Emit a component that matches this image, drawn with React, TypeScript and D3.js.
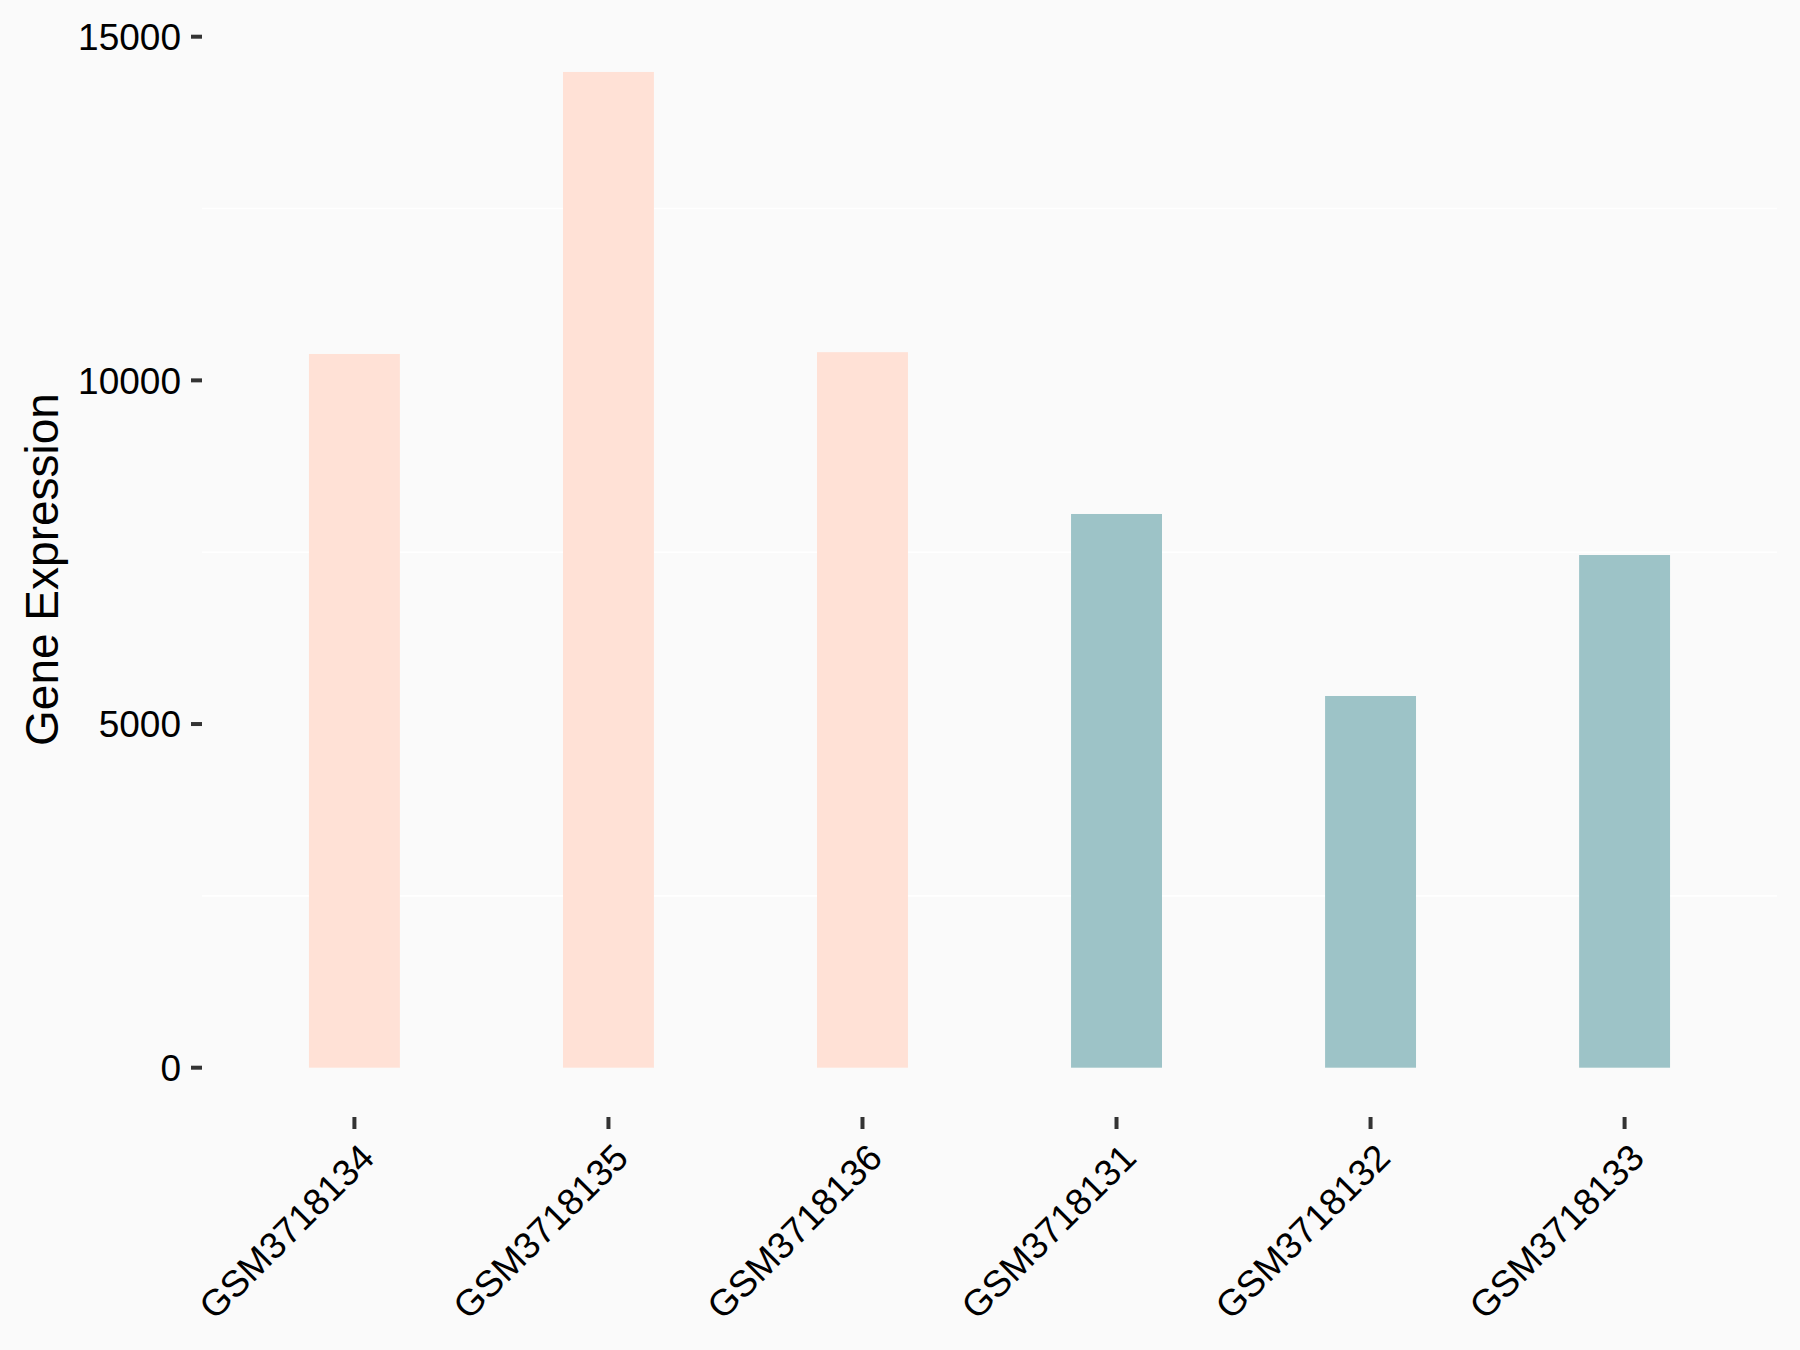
import React from "react";
import * as d3 from "d3";

const categories = ["GSM3718134", "GSM3718135", "GSM3718136", "GSM3718131", "GSM3718132", "GSM3718133"];
const values = [10384, 14487, 10410, 8056, 5408, 7459];
const groups = ["A", "A", "A", "B", "B", "B"];
const groupColors: Record<string, string> = { A: "#FFE1D6", B: "#9DC3C7" };
const yTicks = [0, 5000, 10000, 15000];
const yMinor = [2500, 7500, 12500];
const yTitle = "Gene Expression";

const W = 1800;
const H = 1350;
const panel = { left: 202, right: 1777, top: 22, bottom: 1117 };
const FONT = "'Liberation Sans', Arial, Helvetica, sans-serif";

export default function App() {
  const x = d3.scalePoint<string>().domain(categories).range([panel.left, panel.right]).padding(0.6);
  const y = d3.scaleLinear().domain([0, 15000]).range([1067.7, 36.7]);
  const barW = x.step() * 0.358;

  return (
    <svg width={W} height={H} style={{ position: "absolute", left: 0, top: 0, background: "#FAFAFA" }}>
      <rect x={0} y={0} width={W} height={H} fill="#FAFAFA" />
      {yMinor.map((t) => (
        <line key={"g" + t} x1={panel.left} x2={panel.right} y1={y(t)} y2={y(t)} stroke="#FFFFFF" strokeWidth={1.6} />
      ))}
      {categories.map((c, i) => (
        <rect
          key={c}
          x={(x(c) as number) - barW / 2}
          y={y(values[i])}
          width={barW}
          height={y(0) - y(values[i])}
          fill={groupColors[groups[i]]}
        />
      ))}
      {yTicks.map((t) => (
        <g key={"yt" + t}>
          <line x1={191} x2={202} y1={y(t)} y2={y(t)} stroke="#333333" strokeWidth={4} />
          <text x={181} y={y(t)} dy="0.36em" textAnchor="end" fontFamily={FONT} fontSize={37} fill="#000">
            {t}
          </text>
        </g>
      ))}
      {categories.map((c) => {
        const cx = x(c) as number;
        return (
          <g key={"xt" + c}>
            <line x1={cx} x2={cx} y1={1117} y2={1129} stroke="#333333" strokeWidth={4} />
            <text
              transform={`translate(${cx + 3},${1141}) rotate(-45)`}
              dy="0.72em"
              textAnchor="end"
              fontFamily={FONT}
              fontSize={37}
              fill="#000"
            >
              {c}
            </text>
          </g>
        );
      })}
      <text
        transform={`translate(58,${(panel.top + panel.bottom) / 2}) rotate(-90)`}
        textAnchor="middle"
        fontFamily={FONT}
        fontSize={46}
        fill="#000"
      >
        {yTitle}
      </text>
    </svg>
  );
}
